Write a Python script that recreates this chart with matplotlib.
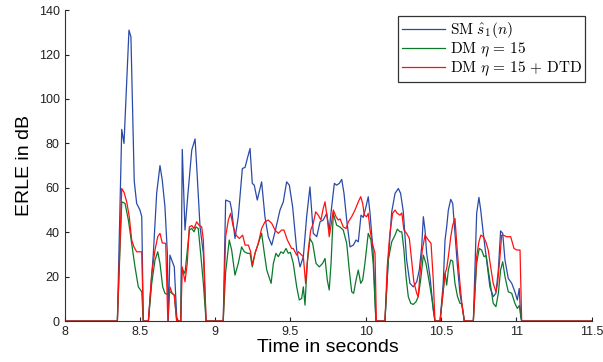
import matplotlib
matplotlib.use('Agg')
import matplotlib.pyplot as plt

# ERLE curves (time in s, ERLE in dB)
t_sm = [8.0, 8.351, 8.38, 8.395, 8.428, 8.441, 8.463, 8.479, 8.501, 8.513, 8.523, 8.557,
        8.59, 8.612, 8.634, 8.649, 8.667, 8.683, 8.689, 8.70, 8.729, 8.745, 8.755, 8.772,
        8.782, 8.80, 8.818, 8.845, 8.867, 8.878, 8.90, 8.922, 8.94, 9.054, 9.070, 9.099,
        9.11, 9.132, 9.154, 9.181, 9.199, 9.214, 9.232, 9.247, 9.26, 9.28, 9.309, 9.331,
        9.353, 9.376, 9.398, 9.431, 9.453, 9.475, 9.493, 9.515, 9.542, 9.564, 9.586, 9.608,
        9.63, 9.652, 9.675, 9.697, 9.718, 9.741, 9.758, 9.774, 9.792, 9.807, 9.825, 9.841,
        9.856, 9.874, 9.896, 9.918, 9.936, 9.951, 9.969, 9.984, 10.002, 10.017, 10.029,
        10.05, 10.068, 10.128, 10.15, 10.173, 10.195, 10.217, 10.232, 10.25, 10.272, 10.294,
        10.316, 10.339, 10.356, 10.372, 10.383, 10.394, 10.405, 10.427, 10.449, 10.46,
        10.494, 10.515, 10.527, 10.538, 10.549, 10.565, 10.578, 10.593, 10.608, 10.626,
        10.648, 10.655, 10.715, 10.737, 10.752, 10.764, 10.781, 10.803, 10.825, 10.847,
        10.865, 10.881, 10.896, 10.91, 10.925, 10.947, 10.97, 10.991, 11.007, 11.02, 11.029,
        11.036, 11.5]
erle_sm = [0, 0, 86.3, 80, 131, 128, 63, 53, 50, 47, 0, 0,
           30.5, 57.6, 70, 63.5, 51.4, 30.5, 0, 29.7, 24.4, 2, 0, 0,
           77.3, 41, 56, 77, 82, 69.4, 42.4, 30.5, 0, 0, 54.5, 53.7,
           50, 37.2, 47, 68.7, 69.2, 73.2, 77.7, 62, 61.2, 54.5, 62.7, 47,
           38, 34.2, 40.2, 50, 53.7, 62.7, 61.2, 51.4, 32, 24.4, 29, 47,
           60.4, 39.5, 38, 44.7, 45.5, 48.5, 41, 51.4, 62, 61.2, 62, 63.8,
           57.5, 45.5, 33.4, 34.2, 36.5, 35.7, 47.7, 46.7, 51.4, 56, 48.5,
           30.5, 0, 0, 27.5, 49.2, 57.5, 59.7, 57.5, 49.2, 27.5, 17,
           15.4, 17.7, 23, 33.4, 47, 41, 30.5, 20, 5, 0,
           0, 17, 36.5, 42.4, 50, 54.8, 53, 39.5, 26, 12.5,
           3.5, 0, 0, 48.5, 55.7, 50, 39.5, 27.5, 15.4, 11,
           12.5, 23, 40.6, 39.5, 27.5, 19.2, 17, 13.2, 9.5, 14.7, 2,
           0, 0]

t_dm = [8.0, 8.351, 8.38, 8.402, 8.424, 8.446, 8.468, 8.49, 8.513, 8.523, 8.557, 8.579,
        8.601, 8.619, 8.634, 8.652, 8.667, 8.683, 8.70, 8.729, 8.745, 8.772, 8.778, 8.80,
        8.829, 8.845, 8.86, 8.873, 8.888, 8.904, 8.922, 8.94, 9.054, 9.07, 9.094, 9.11,
        9.132, 9.154, 9.176, 9.194, 9.216, 9.232, 9.247, 9.265, 9.287, 9.309, 9.327, 9.343,
        9.372, 9.387, 9.404, 9.42, 9.437, 9.453, 9.471, 9.486, 9.5, 9.519, 9.542, 9.559,
        9.575, 9.586, 9.597, 9.612, 9.63, 9.648, 9.67, 9.692, 9.714, 9.73, 9.745, 9.758,
        9.77, 9.785, 9.807, 9.829, 9.851, 9.874, 9.891, 9.907, 9.92, 9.936, 9.951, 9.967,
        9.98, 9.995, 10.017, 10.035, 10.05, 10.068, 10.128, 10.15, 10.173, 10.195, 10.21,
        10.228, 10.24, 10.254, 10.268, 10.283, 10.299, 10.316, 10.334, 10.349, 10.365,
        10.383, 10.40, 10.416, 10.438, 10.46, 10.494, 10.527, 10.538, 10.549, 10.565,
        10.578, 10.593, 10.61, 10.626, 10.64, 10.655, 10.715, 10.737, 10.754, 10.77,
        10.786, 10.8, 10.814, 10.83, 10.847, 10.865, 10.881, 10.896, 10.91, 10.925,
        10.947, 10.97, 10.991, 11.007, 11.02, 11.036, 11.5]
erle_dm = [0, 0, 53.7, 53, 45.5, 35, 24.4, 15.4, 13.2, 0, 0, 17,
           27.5, 31.2, 26, 15.4, 12.5, 12, 13.2, 11.7, 0, 0, 23.7, 21.5,
           41, 41.7, 40.2, 42.4, 41.7, 30.5, 17, 0, 0, 22, 36.5, 32,
           20.7, 26, 33.4, 31.2, 30.5, 30.5, 24.4, 30.5, 35, 39.5, 30.5, 23,
           17, 26, 30.5, 29, 31.2, 30.5, 32.7, 30.5, 31, 26, 15.4, 9.5,
           10.2, 15.4, 7.2, 26, 37.2, 35, 26, 24.4, 26, 28.2, 18.5, 14,
           26, 48.5, 43.2, 42.4, 41, 35, 23, 13.2, 12.5, 18.5, 23, 17,
           18.5, 26, 39.5, 36.5, 26, 0, 0, 27.5, 35.7, 38.7, 41.4,
           40.2, 40.2, 32, 20, 11, 8, 7.5, 8.7, 11, 18.5,
           29.7, 26, 20, 11, 0, 0, 21.5, 16.2, 23, 27.5,
           27, 17, 11, 8, 7.7, 0, 0, 26, 32.7, 32,
           29, 29.5, 23, 15.4, 8, 6.5, 12.5, 23, 26.7, 20,
           13.2, 12.5, 8, 5.7, 7, 0, 0]

t_dtd = [8.0, 8.351, 8.38, 8.395, 8.413, 8.43, 8.446, 8.461, 8.479, 8.513, 8.523, 8.557,
         8.579, 8.601, 8.619, 8.634, 8.649, 8.672, 8.686, 8.70, 8.715, 8.729, 8.745, 8.772,
         8.782, 8.80, 8.815, 8.829, 8.845, 8.86, 8.878, 8.893, 8.911, 8.922, 8.94, 9.054,
         9.07, 9.088, 9.103, 9.121, 9.139, 9.161, 9.183, 9.199, 9.221, 9.236, 9.247, 9.265,
         9.287, 9.309, 9.331, 9.353, 9.376, 9.398, 9.42, 9.442, 9.457, 9.48, 9.508, 9.519,
         9.542, 9.553, 9.575, 9.586, 9.601, 9.619, 9.635, 9.652, 9.668, 9.685, 9.703, 9.718,
         9.73, 9.745, 9.758, 9.774, 9.785, 9.803, 9.818, 9.83, 9.851, 9.87, 9.885, 9.907,
         9.929, 9.951, 9.967, 9.98, 9.991, 10.006, 10.017, 10.029, 10.044, 10.062, 10.071,
         10.128, 10.143, 10.161, 10.179, 10.195, 10.21, 10.228, 10.24, 10.254, 10.272,
         10.29, 10.305, 10.32, 10.339, 10.349, 10.361, 10.376, 10.394, 10.416, 10.434,
         10.449, 10.46, 10.494, 10.527, 10.538, 10.549, 10.565, 10.578, 10.593, 10.608,
         10.626, 10.641, 10.655, 10.715, 10.737, 10.752, 10.765, 10.781, 10.798, 10.814,
         10.83, 10.847, 10.865, 10.876, 10.892, 10.903, 10.914, 10.936, 10.963, 10.985,
         11.003, 11.025, 11.036, 11.5]
erle_dtd = [0, 0, 59.7, 58, 53.7, 47, 36.5, 33.4, 31.2, 31.2, 0, 0,
            21.5, 32, 38, 39.5, 35.2, 35, 0, 15.4, 12.5, 11.7, 0, 0,
            24.4, 17.7, 26, 42.4, 43, 41.7, 44.7, 43.2, 42.4, 36.5, 0, 0,
            38, 45.5, 48.5, 42.4, 38.7, 37.2, 38.7, 34.2, 34.2, 31.2, 25.2, 30.5,
            35, 41.7, 44.7, 45.5, 44, 41, 39.5, 41, 41, 36.5, 32.7, 32.7,
            29.7, 31.2, 29.7, 29, 17, 32, 41, 44, 49.2, 47.7, 45.5, 50.7,
            53.7, 46.2, 38, 44.7, 50, 47, 45.5, 46, 42.4, 41.7, 44.7, 47,
            50, 53.7, 56, 53, 47.7, 47, 48.5, 41, 35, 30.5, 0,
            0, 24.4, 39.5, 48.5, 50, 48.5, 47.7, 48.7, 41, 39.5,
            37.2, 27.5, 17.7, 12.5, 11, 21.5, 32, 38.7, 36.5, 35,
            18.5, 0, 0, 21.5, 23.7, 29, 38, 43.2, 46.2, 32,
            17, 6.5, 0, 0, 29, 35.7, 38.7, 38, 35.7, 32,
            24.4, 17, 13.2, 17, 29, 38.7, 38.7, 38, 38, 32.7,
            32, 32, 0, 0]

labels = [r'$\mathrm{SM}\ \hat{s}_1(n)$',
          r'$\mathrm{DM}\ \eta\,=\,15$',
          r'$\mathrm{DM}\ \eta\,=\,15\,+\,\mathrm{DTD}$']

plt.rcParams['font.family'] = 'Liberation Sans'
plt.rcParams['mathtext.fontset'] = 'cm'

fig = plt.figure(figsize=(6.03, 3.62), dpi=100)
ax = fig.add_axes([0.107, 0.113, 0.874, 0.859])

ax.plot(t_sm, erle_sm, color='#2a4aa8', lw=0.9, label=labels[0])
ax.plot(t_dm, erle_dm, color='#0a7a2a', lw=0.9, label=labels[1])
ax.plot(t_dtd, erle_dtd, color='#ff1010', lw=0.9, label=labels[2])

ax.set_xlim(8, 11.5)
ax.set_ylim(0, 140)
ax.set_xticks([8, 8.5, 9, 9.5, 10, 10.5, 11, 11.5])
ax.set_xticklabels(['8', '8.5', '9', '9.5', '10', '10.5', '11', '11.5'])
ax.set_yticks(range(0, 141, 20))
ax.tick_params(direction='in', length=3, labelsize=9, colors='#222222')

# MATLAB style: no box on top/right
ax.spines['top'].set_visible(False)
ax.spines['right'].set_visible(False)
for s in ['left', 'bottom']:
    ax.spines[s].set_color('#333333')
    ax.spines[s].set_linewidth(0.8)

ax.set_xlabel('Time in seconds', fontsize=14, labelpad=1)
ax.set_ylabel('ERLE in dB', fontsize=14, labelpad=4)

leg = ax.legend(loc='upper right', fontsize=11, frameon=True, fancybox=False,
                edgecolor='black', handlelength=2.8, handletextpad=0.3,
                borderpad=0.25, labelspacing=0.05, borderaxespad=0.4)
leg.get_frame().set_linewidth(0.9)

fig.savefig('out.png', dpi=100)
